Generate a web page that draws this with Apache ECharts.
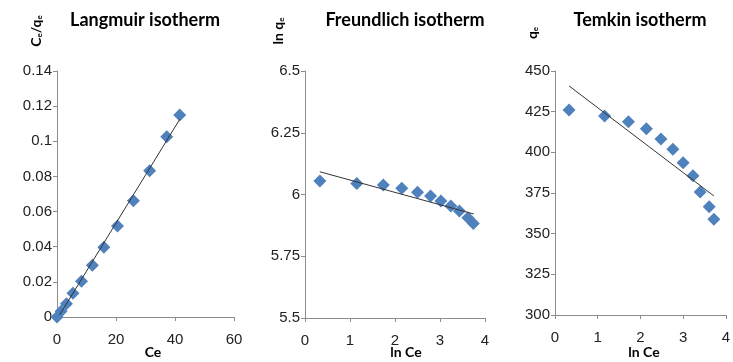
<!DOCTYPE html>
<html><head><meta charset="utf-8">
<script src="https://cdn.jsdelivr.net/npm/echarts@6/dist/echarts.min.js"></script>
<style>html,body{margin:0;padding:0;background:#fff}#c{width:733px;height:362px}</style>
</head><body><div id="c"></div>
<script>
// Langmuir
const langCe = [0, 1.4, 3.2, 5.4, 8.3, 12.0, 15.9, 20.5, 25.9, 31.4, 37.2, 41.6];
const langCeQe = [0, 0.0033, 0.0076, 0.0135, 0.0203, 0.0295, 0.0397, 0.0518, 0.0662, 0.0833, 0.1026, 0.115];
const langTrendX = [0.9, 41.6];
const langTrendY = [0.0012, 0.1125];
// Freundlich
const lnCe = [0.33, 1.15, 1.74, 2.15, 2.5, 2.79, 3.02, 3.24, 3.43, 3.62, 3.74];
const lnQe = [6.055, 6.045, 6.038, 6.025, 6.009, 5.994, 5.974, 5.953, 5.933, 5.906, 5.883];
const freTrendX = [0.33, 3.75];
const freTrendY = [6.092, 5.921];
// Temkin
const temLnCe = [0.33, 1.16, 1.72, 2.14, 2.48, 2.76, 3.0, 3.23, 3.4, 3.61, 3.72];
const temQe = [426, 422.3, 418.8, 414.5, 408.2, 401.9, 393.6, 385.6, 375.6, 366.6, 358.8];
const temTrendX = [0.33, 3.72];
const temTrendY = [440.8, 373.2];
// ticks
const ax1 = {xMin: 0, xMax: 60, xInt: 20, yMin: 0, yMax: 0.14, yInt: 0.02};
const ax2 = {xMin: 0, xMax: 4, xInt: 1, yMin: 5.5, yMax: 6.5, yInt: 0.25};
const ax3 = {xMin: 0, xMax: 4, xInt: 1, yMin: 300, yMax: 450, yInt: 25};

const zip = (a, b) => a.map((v, i) => [v, b[i]]);
const axisColor = '#8c8c8c';
const lblStyle = {color: '#222', fontSize: 15, fontFamily: 'Arial, Liberation Sans, sans-serif'};
function xA(i, a) {
  return {type: 'value', gridIndex: i, min: a.xMin, max: a.xMax, interval: a.xInt,
    axisLine: {show: true, lineStyle: {color: axisColor}},
    axisTick: {show: true, length: 4, inside: false, lineStyle: {color: axisColor}},
    splitLine: {show: false},
    axisLabel: Object.assign({margin: 15}, lblStyle)};
}
function yA(i, a) {
  return {type: 'value', gridIndex: i, min: a.yMin, max: a.yMax, interval: a.yInt,
    axisLine: {show: true, lineStyle: {color: axisColor}},
    axisTick: {show: true, length: 4, inside: false, lineStyle: {color: axisColor}},
    splitLine: {show: false},
    axisLabel: Object.assign({margin: 5}, lblStyle)};
}
const markColor = '#4F81BD';
function sc(i, x, y) {
  return {type: 'scatter', xAxisIndex: i, yAxisIndex: i, data: zip(x, y), symbol: 'diamond',
    symbolSize: 13, itemStyle: {color: markColor, opacity: 1}, z: 2};
}
function tr(i, x, y) {
  return {type: 'line', xAxisIndex: i, yAxisIndex: i, data: zip(x, y), symbol: 'none',
    lineStyle: {color: '#333', width: 1}, z: 3, silent: true};
}
const bold = 'Lato, Carlito, sans-serif';
function txt(x, y, rich, text, rot) {
  return {type: 'text', x: x, y: y, rotation: rot || 0,
    style: {text: text, rich: rich, fill: '#000', font: 'bold 14px ' + bold, align: 'center', verticalAlign: 'middle'}};
}
const rich = {
  t: {fontSize: 18, fontWeight: 'bold', fontFamily: bold, color: '#000'},
  m: {fontSize: 14, fontWeight: 'bold', fontFamily: bold, color: '#000'},
  s: {fontSize: 8, fontWeight: 'bold', fontFamily: bold, color: '#000', padding: [6, 0, 0, 0]}
};
const chart = echarts.init(document.getElementById('c'));
chart.setOption({
  animation: false,
  grid: [
    {left: 57, top: 71, width: 177, height: 246},
    {left: 305, top: 71, width: 180, height: 247},
    {left: 555, top: 71, width: 180, height: 244}
  ],
  xAxis: [xA(0, ax1), xA(1, ax2), xA(2, ax3)],
  yAxis: [yA(0, ax1), yA(1, ax2), yA(2, ax3)],
  series: [
    sc(0, langCe, langCeQe), tr(0, langTrendX, langTrendY),
    sc(1, lnCe, lnQe), tr(1, freTrendX, freTrendY),
    sc(2, temLnCe, temQe), tr(2, temTrendX, temTrendY)
  ],
  graphic: [
    txt(145, 20, rich, '{t|Langmuir isotherm}'),
    txt(405, 20, rich, '{t|Freundlich isotherm}'),
    txt(640, 20, rich, '{t|Temkin isotherm}'),
    txt(36, 31, rich, '{m|C}{s|e}{m|/q}{s|e}', Math.PI / 2),
    txt(278, 31, rich, '{m|ln q}{s|e}', Math.PI / 2),
    txt(532, 33, rich, '{m|q}{s|e}', Math.PI / 2),
    txt(153, 352, rich, '{m|Ce}'),
    txt(406, 352, rich, '{m|ln Ce}'),
    txt(644, 352, rich, '{m|ln Ce}')
  ]
});
</script></body></html>
